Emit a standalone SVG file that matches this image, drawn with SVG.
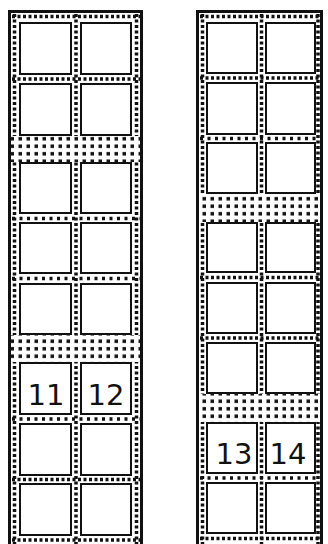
<svg xmlns="http://www.w3.org/2000/svg" width="328" height="544" viewBox="0 0 328 544">
<defs>
<pattern id="dots" x="0" y="0" width="8" height="7.5" patternUnits="userSpaceOnUse">
<rect x="2.5" y="2" width="3.5" height="3.5" fill="#111"/>
</pattern>
<style>
.frame{fill:none;stroke:#111;stroke-width:3}
.perf{fill:none;stroke:#111;stroke-width:3.5;stroke-dasharray:3 2.5}
.perfh{fill:none;stroke:#111;stroke-width:3.5;stroke-dasharray:3 4.5}
.stamp{fill:#fff;stroke:#111;stroke-width:2}
.gutter{fill:url(#dots)}
.gbg{fill:#fff}
.num{font-family:"DejaVu Sans",sans-serif;font-size:29px;fill:#111;text-anchor:middle}
</style>
</defs>
<rect width="328" height="544" fill="#fff"/>

<g id="pane-left">
<rect class="frame" x="9.5" y="11.5" width="132" height="600"/>
<line class="perf" x1="14.5" y1="14" x2="14.5" y2="544"/>
<line class="perf" x1="76" y1="14" x2="76" y2="544"/>
<line class="perf" x1="136.5" y1="14" x2="136.5" y2="544"/>
<line class="perf" x1="12" y1="16.5" x2="140" y2="16.5"/>
<line class="perf" x1="12" y1="79" x2="140" y2="79"/>
<line class="perfh" x1="12" y1="218.5" x2="140" y2="218.5"/>
<line class="perfh" x1="12" y1="278.5" x2="140" y2="278.5"/>
<line class="perfh" x1="12" y1="419" x2="140" y2="419"/>
<line class="perf" x1="12" y1="479.5" x2="140" y2="479.5"/>
<line class="perf" x1="12" y1="540" x2="140" y2="540"/>
<rect class="gbg" x="11" y="136" width="129" height="26"/>
<rect class="gutter" x="11" y="136" width="129" height="26"/>
<rect class="gbg" x="11" y="335" width="129" height="27"/>
<rect class="gutter" x="11" y="335" width="129" height="27"/>
</g>

<g id="pane-right">
<rect class="frame" x="197.5" y="11.5" width="124" height="600"/>
<line class="perf" x1="202.5" y1="14" x2="202.5" y2="544"/>
<line class="perf" x1="261.5" y1="14" x2="261.5" y2="544"/>
<line class="perf" x1="318" y1="14" x2="318" y2="544"/>
<line class="perf" x1="200" y1="16.5" x2="320" y2="16.5"/>
<line class="perf" x1="200" y1="78" x2="320" y2="78"/>
<line class="perfh" x1="200" y1="138.5" x2="320" y2="138.5"/>
<line class="perf" x1="200" y1="277.5" x2="320" y2="277.5"/>
<line class="perf" x1="200" y1="338" x2="320" y2="338"/>
<line class="perfh" x1="200" y1="478" x2="320" y2="478"/>
<line class="perf" x1="200" y1="538.5" x2="320" y2="538.5"/>
<rect class="gbg" x="199" y="194" width="121" height="28"/>
<rect class="gutter" x="199" y="194" width="121" height="28"/>
<rect class="gbg" x="199" y="394" width="121" height="28"/>
<rect class="gutter" x="199" y="394" width="121" height="28"/>
</g>

<g id="left-r1c1"><rect class="stamp" x="20" y="23" width="51" height="51"/></g>
<g id="left-r1c2"><rect class="stamp" x="81" y="23" width="50" height="51"/></g>
<g id="left-r2c1"><rect class="stamp" x="20" y="84" width="51" height="51"/></g>
<g id="left-r2c2"><rect class="stamp" x="81" y="84" width="50" height="51"/></g>
<g id="left-r3c1"><rect class="stamp" x="20" y="163" width="51" height="50"/></g>
<g id="left-r3c2"><rect class="stamp" x="81" y="163" width="50" height="50"/></g>
<g id="left-r4c1"><rect class="stamp" x="20" y="223" width="51" height="50"/></g>
<g id="left-r4c2"><rect class="stamp" x="81" y="223" width="50" height="50"/></g>
<g id="left-r5c1"><rect class="stamp" x="20" y="284" width="51" height="50"/></g>
<g id="left-r5c2"><rect class="stamp" x="81" y="284" width="50" height="50"/></g>
<g id="left-r6c1"><rect class="stamp" x="20" y="363" width="51" height="51"/><text class="num" x="46" y="405">11</text></g>
<g id="left-r6c2"><rect class="stamp" x="81" y="363" width="50" height="51"/><text class="num" x="106" y="405">12</text></g>
<g id="left-r7c1"><rect class="stamp" x="20" y="424" width="51" height="51"/></g>
<g id="left-r7c2"><rect class="stamp" x="81" y="424" width="50" height="51"/></g>
<g id="left-r8c1"><rect class="stamp" x="20" y="484" width="51" height="51"/></g>
<g id="left-r8c2"><rect class="stamp" x="81" y="484" width="50" height="51"/></g>

<g id="right-r1c1"><rect class="stamp" x="207" y="23" width="50" height="50"/></g>
<g id="right-r1c2"><rect class="stamp" x="266" y="23" width="49" height="50"/></g>
<g id="right-r2c1"><rect class="stamp" x="207" y="83" width="50" height="51"/></g>
<g id="right-r2c2"><rect class="stamp" x="266" y="83" width="49" height="51"/></g>
<g id="right-r3c1"><rect class="stamp" x="207" y="143" width="50" height="50"/></g>
<g id="right-r3c2"><rect class="stamp" x="266" y="143" width="49" height="50"/></g>
<g id="right-r4c1"><rect class="stamp" x="207" y="223" width="50" height="49"/></g>
<g id="right-r4c2"><rect class="stamp" x="266" y="223" width="49" height="49"/></g>
<g id="right-r5c1"><rect class="stamp" x="207" y="283" width="50" height="50"/></g>
<g id="right-r5c2"><rect class="stamp" x="266" y="283" width="49" height="50"/></g>
<g id="right-r6c1"><rect class="stamp" x="207" y="343" width="50" height="50"/></g>
<g id="right-r6c2"><rect class="stamp" x="266" y="343" width="49" height="50"/></g>
<g id="right-r7c1"><rect class="stamp" x="207" y="423" width="50" height="50"/><text class="num" x="234" y="464">13</text></g>
<g id="right-r7c2"><rect class="stamp" x="266" y="423" width="49" height="50"/><text class="num" x="288" y="464">14</text></g>
<g id="right-r8c1"><rect class="stamp" x="207" y="483" width="50" height="50"/></g>
<g id="right-r8c2"><rect class="stamp" x="266" y="483" width="49" height="50"/></g>
</svg>
